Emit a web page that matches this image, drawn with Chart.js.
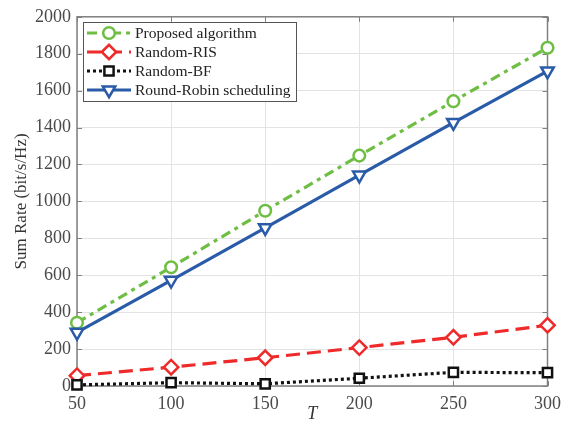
<!DOCTYPE html>
<html>
<head>
<meta charset="utf-8">
<script src="https://cdn.jsdelivr.net/npm/chart.js@4"></script>
<style>
  html, body { margin: 0; padding: 0; background: #fff; }
  #wrap { width: 568px; height: 434px; }
</style>
</head>
<body>
<div id="wrap"><canvas id="c" width="568" height="434"></canvas></div>
<script>
// datos
const T = [50, 100, 150, 200, 250, 300];
const proposed   = [343, 643, 949, 1248, 1543, 1832];
const randomRIS  = [56, 102, 153, 208, 264, 329];
const randomBF   = [6, 18, 12, 42, 74, 72];
const roundRobin = [290, 572, 857, 1142, 1427, 1706];
const seriesNames = ["Proposed algorithm", "Random-RIS", "Random-BF", "Round-Robin scheduling"];
const yTicks = [0, 200, 400, 600, 800, 1000, 1200, 1400, 1600, 1800, 2000];
const xTicks = [50, 100, 150, 200, 250, 300];

const FONT = "'Liberation Serif', 'Times New Roman', serif";
const toPts = ys => T.map((t, i) => ({ x: t, y: ys[i] }));

const datasets = [
  { label: seriesNames[0], data: toPts(proposed), borderColor: '#6fbe44', borderDash: [10, 5, 4, 5],
    pointStyle: 'circle', pointRadius: 5.8, order: 3 },
  { label: seriesNames[1], data: toPts(randomRIS), borderColor: '#ee2a2a', borderDash: [14, 7],
    pointStyle: 'rectRot', pointRadius: 7.2, order: 2 },
  { label: seriesNames[2], data: toPts(randomBF), borderColor: '#111111', borderDash: [3, 3],
    pointStyle: 'rect', pointRadius: 6.5, order: 1 },
  { label: seriesNames[3], data: toPts(roundRobin), borderColor: '#2a5ba8', borderDash: [],
    pointStyle: 'triangle', pointRadius: 7.2, pointRotation: 180, order: 0 }
].map(d => Object.assign({
  borderWidth: 3.2,
  pointBackgroundColor: '#ffffff',
  pointBorderColor: d.borderColor,
  pointBorderWidth: 2.5,
  pointHoverRadius: d.pointRadius,
  fill: false,
  tension: 0,
  clip: false,
  borderCapStyle: 'butt'
}, d));

// marco, marcas internas y leyenda estilo MATLAB
const matlabFrame = {
  id: 'matlabFrame',
  beforeDatasetsDraw(chart) {
    const { ctx, chartArea: a, scales } = chart;
    ctx.save();
    ctx.strokeStyle = '#808080';
    ctx.lineWidth = 1.5;
    ctx.strokeRect(a.left, a.top, a.right - a.left, a.bottom - a.top);
    ctx.lineWidth = 1;
    const tl = 5;
    ctx.beginPath();
    yTicks.forEach(v => {
      const y = Math.round(scales.y.getPixelForValue(v)) + 0.5;
      ctx.moveTo(a.left, y); ctx.lineTo(a.left + tl, y);
      ctx.moveTo(a.right, y); ctx.lineTo(a.right - tl, y);
    });
    xTicks.forEach(v => {
      const x = Math.round(scales.x.getPixelForValue(v)) + 0.5;
      ctx.moveTo(x, a.bottom); ctx.lineTo(x, a.bottom - tl);
      ctx.moveTo(x, a.top); ctx.lineTo(x, a.top + tl);
    });
    ctx.stroke();
    ctx.restore();
  },
  afterDraw(chart) {
    const ctx = chart.ctx;
    const box = { x: 83, y: 22, w: 213, h: 79 };
    ctx.save();
    ctx.fillStyle = '#fff';
    ctx.fillRect(box.x, box.y, box.w, box.h);
    ctx.strokeStyle = '#555';
    ctx.lineWidth = 1;
    ctx.strokeRect(box.x + 0.5, box.y + 0.5, box.w, box.h);
    chart.data.datasets.forEach((d, i) => {
      const y = 33 + i * 19;
      ctx.save();
      ctx.strokeStyle = d.borderColor;
      ctx.lineWidth = d.borderWidth;
      ctx.setLineDash(d.borderDash);
      ctx.beginPath();
      ctx.moveTo(87, y); ctx.lineTo(131, y);
      ctx.stroke();
      ctx.setLineDash([]);
      ctx.fillStyle = '#fff';
      ctx.lineWidth = d.pointBorderWidth;
      Chart.helpers.drawPoint(ctx, {
        pointStyle: d.pointStyle, radius: d.pointRadius,
        rotation: d.pointRotation || 0, borderWidth: d.pointBorderWidth
      }, 109, y);
      ctx.restore();
      ctx.fillStyle = '#222';
      ctx.font = '15.5px ' + FONT;
      ctx.textBaseline = 'middle';
      ctx.fillText(d.label, 135, y + 1);
    });
    ctx.restore();
  }
};

const tickFont = { family: FONT, size: 18 };
const plain = v => String(v);

new Chart(document.getElementById('c'), {
  type: 'line',
  data: { datasets },
  options: {
    responsive: false,
    animation: false,
    events: [],
    layout: { padding: { top: 14, right: 19, left: 0, bottom: 0 } },
    plugins: { legend: { display: false }, tooltip: { enabled: false } },
    scales: {
      x: {
        type: 'linear', min: 50, max: 300,
        afterFit: s => { s.height = 48; },
        afterBuildTicks: s => { s.ticks = xTicks.map(v => ({ value: v })); },
        grid: { color: '#e3e3e3', lineWidth: 1, tickLength: 0 },
        border: { display: false },
        ticks: { font: tickFont, color: '#4a4a4a', padding: 7, maxRotation: 0, callback: plain },
        title: { display: true, text: 'T', color: '#333',
                 font: { family: FONT, size: 18, style: 'italic' }, padding: { top: 0, bottom: 9 } }
      },
      y: {
        min: 0, max: 2000,
        afterFit: s => { s.width = 77; },
        afterBuildTicks: s => { s.ticks = yTicks.map(v => ({ value: v })); },
        grid: { color: '#e3e3e3', lineWidth: 1, tickLength: 0 },
        border: { display: false },
        ticks: { font: tickFont, color: '#4a4a4a', padding: 6, callback: plain },
        title: { display: true, text: 'Sum Rate (bit/s/Hz)', color: '#333',
                 font: { family: FONT, size: 17 }, padding: { top: 11, bottom: 0 } }
      }
    }
  },
  plugins: [matlabFrame]
});
</script>
</body>
</html>
